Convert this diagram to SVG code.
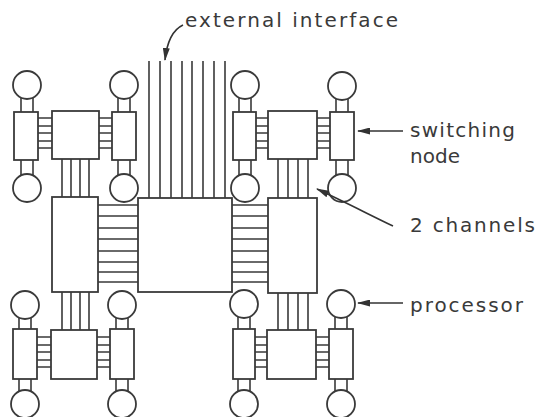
<svg xmlns="http://www.w3.org/2000/svg" width="538" height="417" viewBox="0 0 538 417">
<defs>
<style>
.s{fill:#fff;stroke:#3a3a3a;stroke-width:1.8}
.c{fill:none;stroke:#3a3a3a;stroke-width:1.6}
.t{font-family:"DejaVu Sans","Liberation Sans",sans-serif;font-size:20px;fill:#3a3a3a}
.a{fill:none;stroke:#333;stroke-width:1.6}
</style>
<marker id="ah" viewBox="0 0 13 7" refX="12" refY="3.5" markerWidth="13" markerHeight="7" markerUnits="userSpaceOnUse" orient="auto">
<path d="M0,0 L13,3.5 L0,7 Z" fill="#333"/>
</marker>
</defs>
<rect width="538" height="417" fill="#fff"/>

<g id="connectors">
<path class="c" d="M149,61V198M160,61V198M171,61V198M182,61V198M192,61V198M203,61V198M214,61V198M225,61V198"/>
<path class="c" d="M98,205H138M98,216H138M98,228H138M98,239H138M98,251H138M98,262H138M98,272H138M98,282H138"/>
<path class="c" d="M232,205H268M232,216H268M232,228H268M232,239H268M232,251H268M232,262H268M232,272H268M232,282H268"/>
<path class="c" d="M62,159V198M71,159V198M80,159V198M89,159V198"/>
<path class="c" d="M278,159V198M288,159V198M298,159V198M308,159V198"/>
<path class="c" d="M62,292V330M71,292V330M80,292V330M89,292V330"/>
<path class="c" d="M278,292V330M288,292V330M298,292V330M308,292V330"/>
<path class="c" d="M38,118H52M38,126H52M38,133H52M38,141H52M38,148H52M99,118H112M99,126H112M99,133H112M99,141H112M99,148H112"/>
<path class="c" d="M21,98V112M33,98V112M21,160V175M33,160V175M118,98V112M130,98V112M118,160V175M130,160V175"/>
<path class="c" d="M256,118H268M256,126H268M256,133H268M256,141H268M256,148H268M317,118H330M317,126H330M317,133H330M317,141H330M317,148H330"/>
<path class="c" d="M239,98V112M251,98V112M239,160V175M251,160V175M336,99V112M348,99V112M336,160V175M348,160V175"/>
<path class="c" d="M37,337H51M37,345H51M37,352H51M37,360H51M37,367H51M97,337H110M97,345H110M97,352H110M97,360H110M97,367H110"/>
<path class="c" d="M19,318V329M31,318V329M19,379V391M31,379V391M116,318V329M128,318V329M116,379V391M128,379V391"/>
<path class="c" d="M255,337H267M255,345H267M255,352H267M255,360H267M255,367H267M316,337H329M316,345H329M316,352H329M316,360H329M316,367H329"/>
<path class="c" d="M238,317V329M250,317V329M238,379V391M250,379V391M335,317V329M347,317V329M335,379V391M347,379V391"/>
</g>

<g id="central-node"><rect class="s" x="138" y="198" width="94" height="94"/></g>
<g id="left-node"><rect class="s" x="52" y="197" width="46" height="95"/></g>
<g id="right-node"><rect class="s" x="268" y="198" width="49" height="95"/></g>

<g id="cluster-top-left">
<circle class="s" cx="27" cy="85" r="14"/>
<circle class="s" cx="124" cy="85" r="14"/>
<circle class="s" cx="27" cy="188" r="14"/>
<circle class="s" cx="124" cy="188" r="14"/>
<rect class="s" x="14" y="112" width="24" height="48"/>
<rect class="s" x="52" y="111" width="47" height="48"/>
<rect class="s" x="112" y="112" width="24" height="48"/>
</g>

<g id="cluster-top-right">
<circle class="s" cx="245" cy="85" r="14"/>
<circle class="s" cx="342" cy="86" r="14"/>
<circle class="s" cx="245" cy="188" r="14"/>
<circle class="s" cx="342" cy="188" r="14"/>
<rect class="s" x="233" y="112" width="23" height="48"/>
<rect class="s" x="268" y="111" width="49" height="48"/>
<rect class="s" x="330" y="112" width="24" height="48"/>
</g>

<g id="cluster-bottom-left">
<circle class="s" cx="25" cy="305" r="14"/>
<circle class="s" cx="122" cy="305" r="14"/>
<circle class="s" cx="25" cy="404" r="14"/>
<circle class="s" cx="122" cy="404" r="14"/>
<rect class="s" x="13" y="329" width="24" height="50"/>
<rect class="s" x="51" y="330" width="46" height="49"/>
<rect class="s" x="110" y="329" width="24" height="50"/>
</g>

<g id="cluster-bottom-right">
<circle class="s" cx="244" cy="304" r="14"/>
<circle class="s" cx="341" cy="304" r="14"/>
<circle class="s" cx="244" cy="404" r="14"/>
<circle class="s" cx="341" cy="404" r="14"/>
<rect class="s" x="233" y="329" width="22" height="50"/>
<rect class="s" x="267" y="330" width="49" height="49"/>
<rect class="s" x="329" y="329" width="24" height="50"/>
</g>

<g id="labels">
<path class="a" d="M183,25 Q168,32 165,60" marker-end="url(#ah)"/>
<text class="t" x="185" y="27" textLength="213" lengthAdjust="spacing">external interface</text>
<path class="a" d="M403,131 H358" marker-end="url(#ah)"/>
<text class="t" x="410" y="137" textLength="105" lengthAdjust="spacing">switching</text>
<text class="t" x="410" y="163" textLength="50" lengthAdjust="spacing">node</text>
<path class="a" d="M393,226 C372,216 345,202 317,189" marker-end="url(#ah)"/>
<text class="t" x="410" y="232" textLength="125" lengthAdjust="spacing">2 channels</text>
<path class="a" d="M403,303 H358" marker-end="url(#ah)"/>
<text class="t" x="410" y="312" textLength="113" lengthAdjust="spacing">processor</text>
</g>
</svg>
